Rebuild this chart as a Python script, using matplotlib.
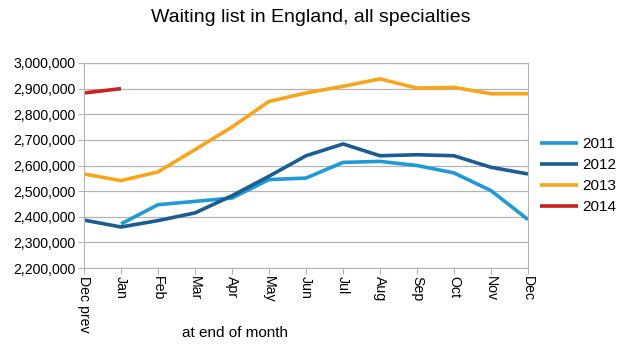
import matplotlib
matplotlib.use("Agg")
import matplotlib.pyplot as plt
import numpy as np
from matplotlib.ticker import FuncFormatter

plt.rcParams['font.family'] = ['Liberation Sans', 'DejaVu Sans']

months = ["Dec prev", "Jan", "Feb", "Mar", "Apr", "May", "Jun",
          "Jul", "Aug", "Sep", "Oct", "Nov", "Dec"]
y2011 = [np.nan, 2372000, 2447000, 2460000, 2473000, 2545000, 2551000,
         2612000, 2616000, 2600000, 2571000, 2502000, 2389000]
y2012 = [2387000, 2360000, 2385000, 2415000, 2482000, 2558000, 2638000,
         2684000, 2638000, 2642000, 2638000, 2593000, 2567000]
y2013 = [2567000, 2541000, 2575000, 2662000, 2750000, 2850000, 2883000,
         2909000, 2938000, 2902000, 2905000, 2880000, 2880000]
y2014 = [2883000, 2900000] + [np.nan] * 11

series = [("2011", y2011, "#1f9ad6"),
          ("2012", y2012, "#1b5c93"),
          ("2013", y2013, "#f8a51b"),
          ("2014", y2014, "#c9221e")]

fig = plt.figure(figsize=(6.21, 3.51), dpi=100)
ax = fig.add_axes([84/621, 1 - 268/351, (528-84)/621, (268-63)/351])

x = np.arange(len(months))
for name, vals, col in series:
    ax.plot(x, vals, color=col, lw=2.6, label=name, solid_capstyle="butt")

ax.set_xlim(0, len(months) - 1)
ax.set_ylim(2200000, 3000000)
ax.set_yticks(np.arange(2200000, 3000001, 100000))
ax.yaxis.set_major_formatter(FuncFormatter(lambda v, p: f"{int(v):,}"))
ax.set_xticks(x)
ax.set_xticklabels(months, rotation=270, fontsize=10.2)
ax.tick_params(axis="y", labelsize=10.2, length=4, color="#b3b3b3", pad=2)
ax.tick_params(axis="x", length=4, color="#b3b3b3", pad=2)
ax.grid(axis="y", color="#b3b3b3", lw=0.9)
ax.set_axisbelow(True)
for s in ax.spines.values():
    s.set_color("#b3b3b3")

ax.legend(loc="center left", bbox_to_anchor=(0.995, 0.45), frameon=False,
          fontsize=11, handlelength=2.5, handletextpad=0.3, labelspacing=0.45)

fig.text(0.5, 1 - 18/351, "Waiting list in England, all specialties",
         ha="center", va="center", fontsize=14)
fig.text(235/621, 1 - 333/351, "at end of month", ha="center", va="center",
         fontsize=11)

fig.savefig("out.png", dpi=100)
